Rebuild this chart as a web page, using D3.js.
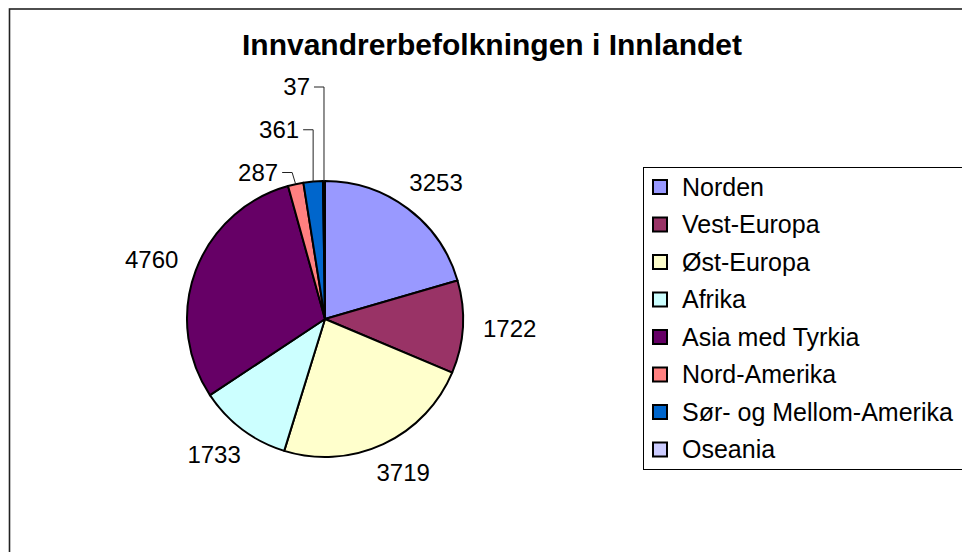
<html>
<head>
<meta charset="utf-8">
<script src="https://d3js.org/d3.v7.min.js"></script>
<style>
  body { margin: 0; background: #fff; }
  text { font-family: "Liberation Sans", Arial, sans-serif; fill: #000; }
</style>
</head>
<body>
<script>
const title = "Innvandrerbefolkningen i Innlandet"
const categories = ["Norden", "Vest-Europa", "Øst-Europa", "Afrika", "Asia med Tyrkia", "Nord-Amerika", "Sør- og Mellom-Amerika", "Oseania"]
const values = [3253, 1722, 3719, 1733, 4760, 287, 361, 37]
const colors = ["#9999ff", "#993366", "#ffffcc", "#ccffff", "#660066", "#ff8080", "#0066cc", "#ccccff"]

const width = 962, height = 552
const cx = 325, cy = 319, r = 138

const svg = d3.select("body").append("svg")
    .attr("width", width)
    .attr("height", height)

// chart frame (right and bottom edges fall outside the picture)
svg.append("rect")
    .attr("x", 9.5).attr("y", 9)
    .attr("width", 1000).attr("height", 600)
    .attr("fill", "#fff")
    .attr("stroke", "#222")
    .attr("stroke-width", 1.6)

svg.append("text")
    .attr("x", 492).attr("y", 55)
    .attr("text-anchor", "middle")
    .style("font-size", "30px")
    .style("font-weight", "bold")
    .text(title)

const arcs = d3.pie().sort(null).value(d => d)(values)
const arc = d3.arc().innerRadius(0).outerRadius(r)

const g = svg.append("g").attr("transform", `translate(${cx},${cy})`)

g.selectAll("path")
    .data(arcs)
    .enter()
    .append("path")
    .attr("d", arc)
    .attr("fill", (d, i) => colors[i])
    .attr("stroke", "#000")
    .attr("stroke-width", 2)
    .attr("stroke-linejoin", "round")

const fontSize = 24
const mid = d => (d.startAngle + d.endAngle) / 2

// big slices: label box pushed outside the pie along the mid angle
const big = arcs.filter((d, i) => i < 5)
g.selectAll("text.big")
    .data(big)
    .enter()
    .append("text")
    .attr("class", "big")
    .attr("text-anchor", "middle")
    .attr("dy", "0.35em")
    .style("font-size", fontSize + "px")
    .attr("x", d => {
        const a = mid(d)
        return Math.sin(a) * (r + 20) + Math.sin(a) * 27
    })
    .attr("y", d => {
        const a = mid(d)
        return -Math.cos(a) * (r + 20) - Math.cos(a) * 12
    })
    .text(d => d.data)

// small slices: labels stacked above the pie with leader lines
const small = arcs.filter((d, i) => i >= 5)
small.forEach((d, k) => {
    const a = mid(d)
    const ex = Math.sin(a) * r, ey = -Math.cos(a) * r
    const ly = -r - 8.5 - k * 42.75
    const bx = (ey - ly) < 20 ? ex - (ey - ly) * 0.3 : ex
    g.append("path")
        .attr("d", `M${ex},${ey}L${bx},${ly}L${bx - 10},${ly}`)
        .attr("fill", "none")
        .attr("stroke", "#222")
        .attr("stroke-width", 1)
    g.append("text")
        .attr("x", bx - 14)
        .attr("y", ly)
        .attr("dy", "0.35em")
        .attr("text-anchor", "end")
        .style("font-size", fontSize + "px")
        .text(d.data)
})

// legend
const legend = svg.append("g")
legend.append("rect")
    .attr("x", 643.5).attr("y", 167.5)
    .attr("width", 400).attr("height", 302)
    .attr("fill", "#fff")
    .attr("stroke", "#000")
    .attr("stroke-width", 1)

const rowY = d3.scalePoint().domain(categories).range([187, 449.5])

const rows = legend.selectAll("g.row")
    .data(categories)
    .enter()
    .append("g")
    .attr("class", "row")
    .attr("transform", d => `translate(0,${rowY(d)})`)

rows.append("rect")
    .attr("x", 653).attr("y", -7)
    .attr("width", 14).attr("height", 14)
    .attr("fill", (d, i) => colors[i])
    .attr("stroke", "#000")
    .attr("stroke-width", 2)

rows.append("text")
    .attr("x", 682)
    .attr("dy", "0.35em")
    .style("font-size", "25px")
    .text(d => d)
</script>
</body>
</html>
